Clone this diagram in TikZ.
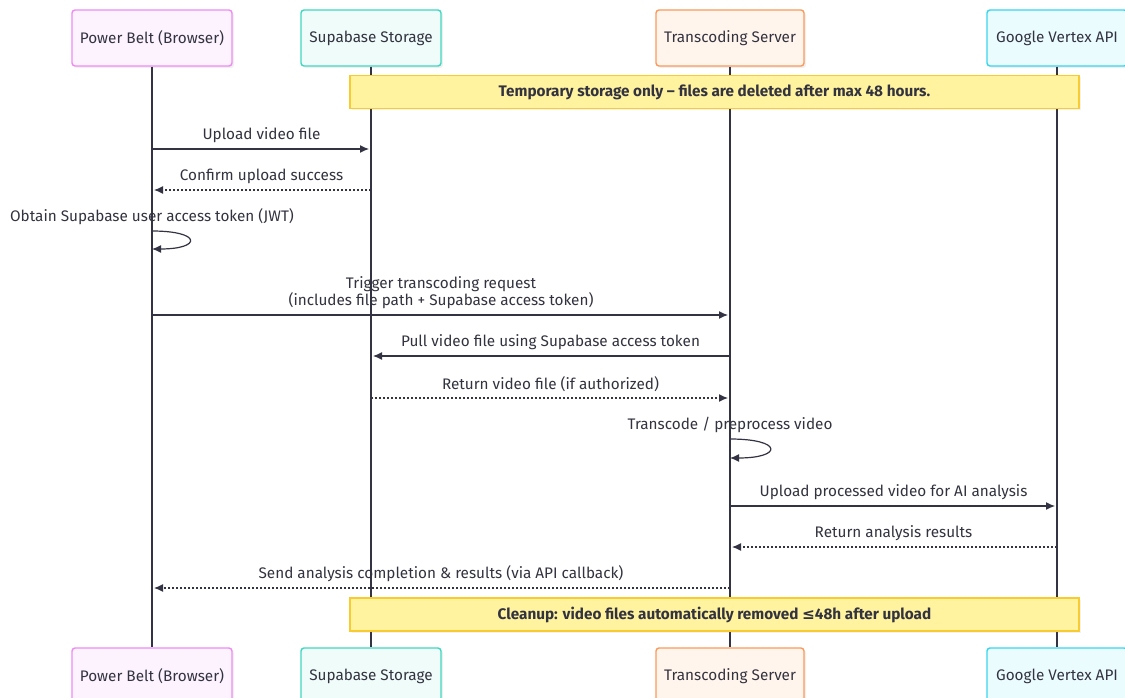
\documentclass[tikz,border=0pt]{standalone}
\usepackage{fontspec}
\setmainfont{Fira Sans}
\newfontfamily\symfont{DejaVu Sans}
\usetikzlibrary{arrows.meta,shadows}

\definecolor{linecol}{HTML}{333344}
\definecolor{textcol}{HTML}{333340}
\definecolor{pbline}{HTML}{EE8CF3}
\definecolor{pbfill}{HTML}{FDF3FF}
\definecolor{sbline}{HTML}{40D8C0}
\definecolor{sbfill}{HTML}{EFFCF9}
\definecolor{tcline}{HTML}{FB9A5C}
\definecolor{tcfill}{HTML}{FFF5EC}
\definecolor{gvline}{HTML}{36D6EE}
\definecolor{gvfill}{HTML}{EBFCFF}
\definecolor{noteline}{HTML}{F8CC30}
\definecolor{notefill}{HTML}{FFF3A0}

\tikzset{
	seqpicture/.style = {
		x = 1pt,
		y = -1pt,
		font = \fontsize{15.3}{17}\selectfont,
		text = textcol,
		msg/.style = {
			draw = linecol,
			line width = 1.2pt,
			-{Latex[length=9pt, width=8pt]},
			shorten >=2pt,
		},
		reply/.style = {
			msg,
			dash pattern = on 2pt off 2pt,
		}
	},
	actor/.style = {
		rectangle,
		rounded corners = 3pt,
		line width = 1.4pt,
		minimum height = 56pt,
		minimum width = 140pt,
		drop shadow = {opacity = 0.12, shadow xshift = 2pt, shadow yshift = -2pt}
	},
	lifeline/.style = {
		draw = linecol,
		line width = 1.4pt
	},
	notebox/.style = {
		rectangle,
		draw = noteline,
		fill = notefill,
		line width = 1.2pt,
		minimum width = 729pt,
		minimum height = 33pt,
		font = \fontsize{15.3}{17}\selectfont\bfseries,
		drop shadow = {opacity = 0.1, shadow xshift = 2pt, shadow yshift = -2pt}
	},
	msglabel/.style = {
		above,
		yshift = 2pt,
		align = center
	}
}

\begin{document}
\begin{tikzpicture}[seqpicture]
	\fill[white] (0,0) rectangle (1125,698);
	\useasboundingbox (0,0) rectangle (1125,698);

	% participants
	\node[actor, draw = pbline, fill = pbfill, minimum width = 160pt] (pb) at (152,38) {Power Belt (Browser)};
	\node[actor, draw = sbline, fill = sbfill] (sb) at (371,38) {Supabase Storage};
	\node[actor, draw = tcline, fill = tcfill, minimum width = 148pt] (tc) at (730,38) {Transcoding Server};
	\node[actor, draw = gvline, fill = gvfill] (gv) at (1057,38) {Google Vertex API};

	\node[actor, draw = pbline, fill = pbfill, minimum width = 160pt] (pb-foot) at (152,676) {Power Belt (Browser)};
	\node[actor, draw = sbline, fill = sbfill] (sb-foot) at (371,676) {Supabase Storage};
	\node[actor, draw = tcline, fill = tcfill, minimum width = 148pt] (tc-foot) at (730,676) {Transcoding Server};
	\node[actor, draw = gvline, fill = gvfill] (gv-foot) at (1057,676) {Google Vertex API};

	\draw[lifeline] (pb) -- (pb-foot);
	\draw[lifeline] (sb) -- (sb-foot);
	\draw[lifeline] (tc) -- (tc-foot);
	\draw[lifeline] (gv) -- (gv-foot);

	% notes
	\node[notebox] (keep) at (714.5,92) {Temporary storage only -- files are deleted after max 48 hours.};
	\node[notebox] (cleanup) at (714.5,614.5) {Cleanup: video files automatically removed {\symfont\bfseries ≤}48h after upload};

	% messages
	\begin{scope}
		\path[msg] (pb |- 0,149) to node[msglabel] {Upload video file} (sb |- 0,149);
		\path[reply] (sb |- 0,190) to node[msglabel] {Confirm upload success} (pb |- 0,190);
		\path[msg, shorten >=0pt] (pb |- 0,231) node[msglabel] {Obtain Supabase user access token (JWT)}
			.. controls +(50,0) and +(50,0) .. (pb |- 0,249);

		\path[msg] (pb |- 0,315) to node[msglabel] {Trigger transcoding request\\(includes file path + Supabase access token)} (tc |- 0,315);
		\path[msg] (tc |- 0,356) to node[msglabel] {Pull video file using Supabase access token} (sb |- 0,356);
		\path[reply] (sb |- 0,398) to node[msglabel] {Return video file (if authorized)} (tc |- 0,398);
		\path[msg, shorten >=0pt] (tc |- 0,439) node[msglabel] {Transcode / preprocess video}
			.. controls +(53,0) and +(53,0) .. (tc |- 0,458);

		\path[msg] (tc |- 0,506) to node[msglabel] {Upload processed video for AI analysis} (gv |- 0,506);
		\path[reply] (gv |- 0,547) to node[msglabel] {Return analysis results} (tc |- 0,547);
		\path[reply] (tc |- 0,588) to node[msglabel] {Send analysis completion \& results (via API callback)} (pb |- 0,588);
	\end{scope}
\end{tikzpicture}
\end{document}
